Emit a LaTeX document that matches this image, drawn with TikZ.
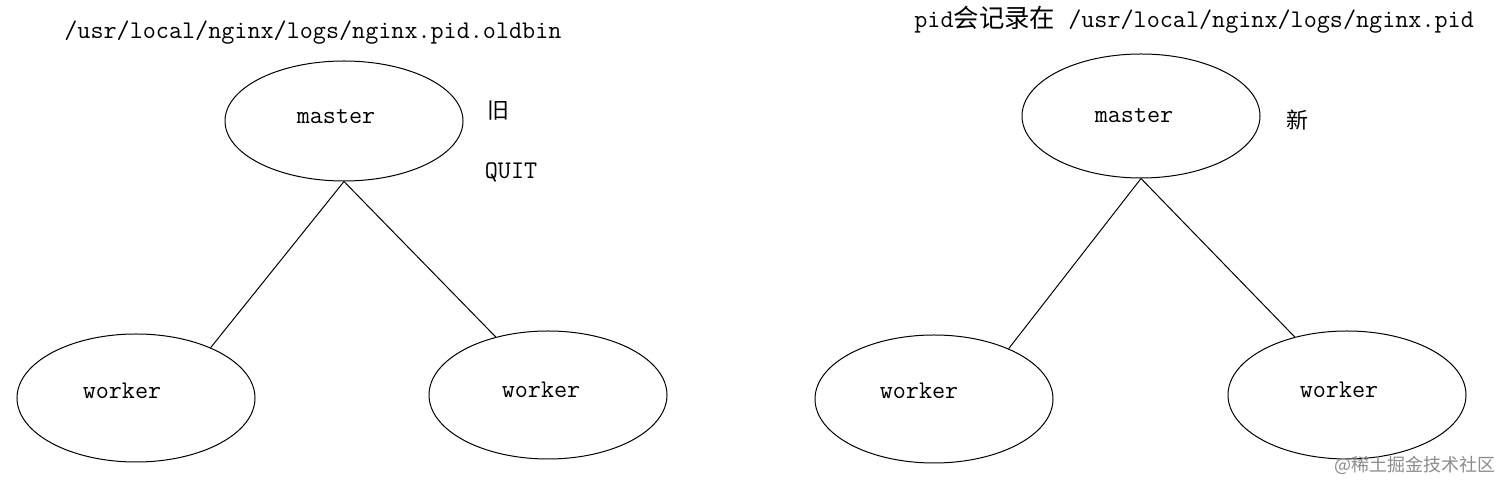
\documentclass[tikz,border=0pt]{standalone}
\usepackage{fontspec}
\newfontfamily\cjk{Noto Sans CJK SC}
\usetikzlibrary{shapes.geometric}
\tikzset{
  proc/.style={draw, ellipse, line width=0.5pt, minimum width=119pt, minimum height=60pt, inner sep=0pt},
  lbl/.style={font=\ttfamily\fontsize{12.7}{14}\selectfont, inner sep=0pt},
  link/.style={line width=0.5pt},
  cjkmark/.style={font=\cjk\fontsize{11}{13}\selectfont, inner sep=0pt},
}
\begin{document}
\begin{tikzpicture}[x=0.5pt,y=-0.5pt]
\useasboundingbox[fill=white] (0,0) rectangle (1512,491);
% left group
\node[proc] (mL) at (344,121) {};
\node[proc, minimum height=64pt] (wLL) at (136,398) {};
\node[proc, minimum height=64pt] (wLR) at (548,395) {};
\node[lbl] (tmL) at (336,117) {master};
\node[lbl] (twLL) at (122,391) {worker};
\node[lbl] (twLR) at (541,390) {worker};
\draw[link] (mL.south) -- (wLL.34);
\draw[link] (mL.south) -- (wLR.132);
\node[lbl, anchor=west] (pathL) at (64,33) {/usr/local/nginx/logs/nginx.pid.oldbin};
\node[cjkmark] (old) at (498,111) {旧};
\node[lbl] (quit) at (511,172) {QUIT};
% right group
\node[proc, minimum height=62pt] (mR) at (1141,116) {};
\node[proc, minimum height=64pt] (wRL) at (934,399) {};
\node[proc, minimum height=64pt] (wRR) at (1347,395) {};
\node[lbl] (tmR) at (1134,116) {master};
\node[lbl] (twRL) at (919,391) {worker};
\node[lbl] (twRR) at (1339,390) {worker};
\draw[link] (mR.south) -- (wRL.34);
\draw[link] (mR.south) -- (wRR.132);
\node[lbl, anchor=west] (pathR) at (914,20) {pid{\cjk 会记录在} /usr/local/nginx/logs/nginx.pid};
\node[cjkmark] (new) at (1297,120) {新};
% watermark
\node[font=\cjk\fontsize{9}{11}\selectfont, text=black!45, anchor=east, inner sep=0pt] (wm) at (1496,465) {@稀土掘金技术社区};
\end{tikzpicture}
\end{document}
